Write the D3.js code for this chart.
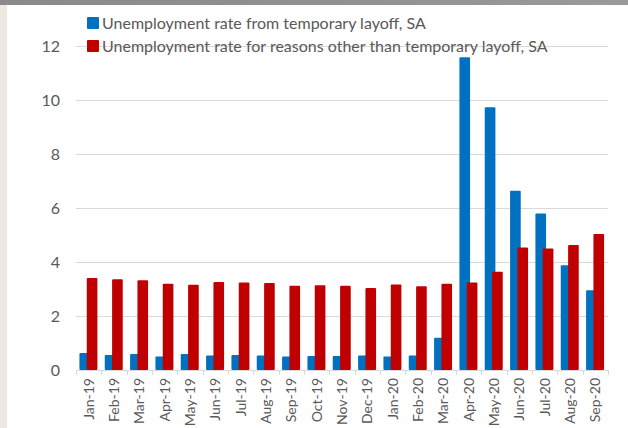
<!DOCTYPE html>
<html>
<head>
<meta charset="utf-8">
<script src="https://cdn.jsdelivr.net/npm/d3@7"></script>
<style>
  html, body { margin: 0; padding: 0; background: #ffffff; }
  svg { display: block; }
</style>
</head>
<body>
<svg id="chart" width="628" height="428"></svg>
<script>
// Monthly categories, Jan 2019 – Sep 2020
const months = ["Jan-19","Feb-19","Mar-19","Apr-19","May-19","Jun-19","Jul-19","Aug-19","Sep-19","Oct-19","Nov-19","Dec-19",
                "Jan-20","Feb-20","Mar-20","Apr-20","May-20","Jun-20","Jul-20","Aug-20","Sep-20"];

// Unemployment rate from temporary layoff, SA (%)
const tempLayoff = [0.63,0.56,0.59,0.50,0.59,0.54,0.56,0.54,0.50,0.52,0.52,0.54,
                    0.50,0.54,1.19,11.58,9.73,6.64,5.80,3.88,2.95];

// Unemployment rate for reasons other than temporary layoff, SA (%)
const otherReasons = [3.41,3.36,3.32,3.19,3.16,3.26,3.24,3.22,3.12,3.14,3.12,3.04,
                      3.17,3.10,3.19,3.24,3.64,4.54,4.50,4.63,5.04];

const yTicks = [0,2,4,6,8,10,12];

const seriesNames = ["Unemployment rate from temporary layoff, SA",
                     "Unemployment rate for reasons other than temporary layoff, SA"];
const seriesColors = ["#0070c0", "#c00000"];

const svg = d3.select("#chart");
const W = 628, H = 428;
const FONT = "Lato, 'Liberation Sans', sans-serif";

// page frame: grey band on top, beige strip on the left
svg.append("rect").attr("x",0).attr("y",0).attr("width",W).attr("height",H).attr("fill","#ffffff");
const grad = svg.append("defs").append("linearGradient").attr("id","band").attr("x1","0").attr("x2","1");
grad.append("stop").attr("offset","0").attr("stop-color","#8a8a8a");
grad.append("stop").attr("offset","0.6").attr("stop-color","#929292");
grad.append("stop").attr("offset","1").attr("stop-color","#9a9a9a");
svg.append("rect").attr("x",0).attr("y",0).attr("width",W).attr("height",5).attr("fill","url(#band)");
svg.append("rect").attr("x",0).attr("y",5).attr("width",7).attr("height",H-5).attr("fill","#ede9e1");

const x = d3.scaleBand().domain(months).range([76, 608]).paddingInner(0).paddingOuter(0);
const y = d3.scaleLinear().domain([0, 12]).range([370, 46]);

// horizontal gridlines
svg.append("g").selectAll("line").data(yTicks.filter(d => d > 0)).join("line")
  .attr("x1", 76).attr("x2", 608)
  .attr("y1", d => y(d)).attr("y2", d => y(d))
  .attr("stroke", "#d9d9d9").attr("stroke-width", 1).attr("shape-rendering","crispEdges");

// y axis labels
const yAxis = d3.axisLeft(y).tickValues(yTicks).tickSize(0).tickPadding(0).tickFormat(d3.format("d"));
const gy = svg.append("g").attr("transform", "translate(60,0)").call(yAxis);
gy.select(".domain").remove();
gy.selectAll("text").attr("font-family", FONT).attr("font-size", 16).attr("fill", "#595959");

// bars
const bw = x.bandwidth();
const barW = bw * 0.42;
const offsets = [bw * 0.135, bw * 0.425];
[tempLayoff, otherReasons].forEach((vals, si) => {
  svg.append("g").selectAll("rect").data(vals).join("rect")
    .attr("x", (d, i) => x(months[i]) + offsets[si])
    .attr("width", barW)
    .attr("y", d => y(d))
    .attr("height", d => y(0) - y(d))
    .attr("rx", 1)
    .attr("fill", seriesColors[si]);
});

// category axis
const xAxis = d3.axisBottom(x).tickSize(0).tickPadding(0);
const gx = svg.append("g").attr("transform", "translate(0,370)").call(xAxis);
gx.select(".domain").attr("stroke", "#d9d9d9").attr("d", "M76,0.5H608");
gx.selectAll(".tick text")
  .attr("font-family", FONT).attr("font-size", 14).attr("fill", "#595959")
  .attr("text-anchor", "end")
  .attr("transform", "rotate(-90)")
  .attr("x", -8).attr("y", 0).attr("dy", "0.35em");
// tick marks between categories
gx.append("g").selectAll("line").data(d3.range(months.length + 1)).join("line")
  .attr("x1", i => Math.round(76 + i * bw) + 0.5).attr("x2", i => Math.round(76 + i * bw) + 0.5)
  .attr("y1", 0).attr("y2", 5)
  .attr("stroke", "#d9d9d9");

// legend
const legend = svg.append("g");
seriesNames.forEach((name, i) => {
  const ly = 23 + i * 23;
  legend.append("rect").attr("x", 87).attr("y", ly - 6).attr("width", 12).attr("height", 12)
    .attr("rx", 1).attr("fill", seriesColors[i]);
  legend.append("text").attr("x", 102).attr("y", ly).attr("dy", "0.35em")
    .attr("font-family", FONT).attr("font-size", 16).attr("fill", "#595959").text(name);
});
</script>
</body>
</html>
